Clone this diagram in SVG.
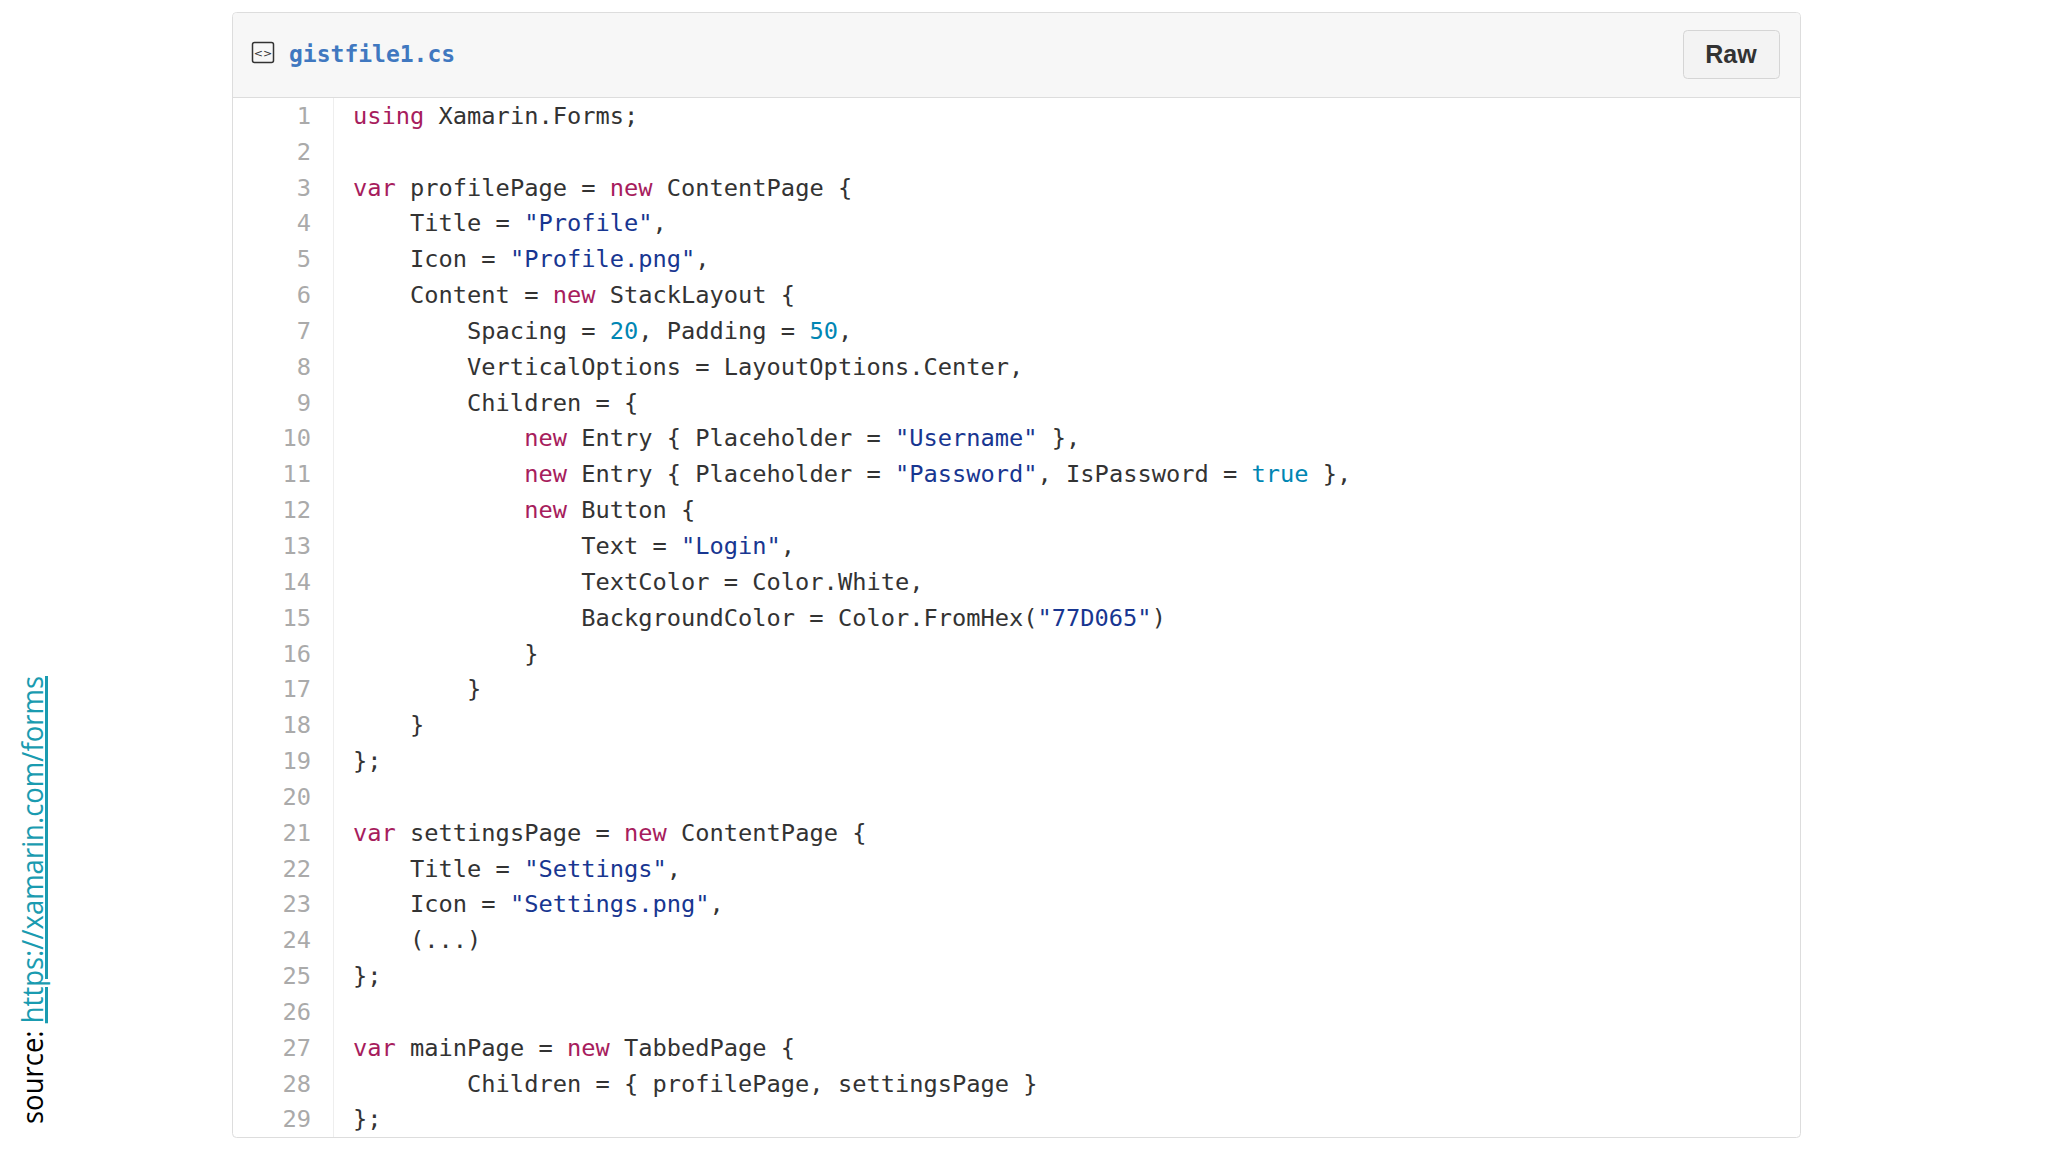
<svg xmlns="http://www.w3.org/2000/svg" width="2048" height="1152" viewBox="0 0 2048 1152">
<style>
.c{font-family:"DejaVu Sans Mono","Liberation Mono",monospace;font-size:23.7px;fill:#333;white-space:pre}
.n{font-family:"DejaVu Sans Mono","Liberation Mono",monospace;font-size:23.7px;fill:#aaa;text-anchor:end}
.k{fill:#a71d5d}.s{fill:#183691}.d{fill:#0086b3}
</style>
<rect width="2048" height="1152" fill="#fff"/>
<g id="gist">
<rect x="232.5" y="12.5" width="1568" height="1125" rx="4" fill="#fff" stroke="#ddd"/>
<path d="M233 97 V17 a4 4 0 0 1 4 -4 H1796 a4 4 0 0 1 4 4 V97 Z" fill="#f7f7f7"/>
<line x1="233" y1="97.5" x2="1800" y2="97.5" stroke="#ddd"/>
<line x1="333.5" y1="98" x2="333.5" y2="1137" stroke="#eee"/>
</g>
<g id="header">
<rect x="252.5" y="42.5" width="21" height="20" rx="2" fill="none" stroke="#333" stroke-width="1.5"/>
<text x="263" y="57" font-family="DejaVu Sans" font-size="11" fill="#333" text-anchor="middle">&lt;&gt;</text>
<text x="289" y="62" font-family="DejaVu Sans Mono,monospace" font-weight="bold" font-size="23" fill="#4078c0">gistfile1.cs</text>
<rect x="1683.5" y="30.5" width="96" height="48" rx="4" fill="#f3f3f3" stroke="#d5d5d5"/>
<text x="1731" y="63" font-family="Liberation Sans,Arial,sans-serif" font-weight="bold" font-size="25" fill="#333" text-anchor="middle">Raw</text>
</g>
<g id="numbers">
<text class="n" x="311" y="124">1</text><text class="n" x="311" y="160">2</text><text class="n" x="311" y="196">3</text><text class="n" x="311" y="231">4</text><text class="n" x="311" y="267">5</text><text class="n" x="311" y="303">6</text><text class="n" x="311" y="339">7</text><text class="n" x="311" y="375">8</text><text class="n" x="311" y="411">9</text><text class="n" x="311" y="446">10</text><text class="n" x="311" y="482">11</text><text class="n" x="311" y="518">12</text><text class="n" x="311" y="554">13</text><text class="n" x="311" y="590">14</text><text class="n" x="311" y="626">15</text><text class="n" x="311" y="662">16</text><text class="n" x="311" y="697">17</text><text class="n" x="311" y="733">18</text><text class="n" x="311" y="769">19</text><text class="n" x="311" y="805">20</text><text class="n" x="311" y="841">21</text><text class="n" x="311" y="877">22</text><text class="n" x="311" y="912">23</text><text class="n" x="311" y="948">24</text><text class="n" x="311" y="984">25</text><text class="n" x="311" y="1020">26</text><text class="n" x="311" y="1056">27</text><text class="n" x="311" y="1092">28</text><text class="n" x="311" y="1127">29</text>
</g>
<g id="code" xml:space="preserve">
<text class="c" x="353" y="124"><tspan class="k">using</tspan> Xamarin.Forms;</text>
<text class="c" x="353" y="196"><tspan class="k">var</tspan> profilePage = <tspan class="k">new</tspan> ContentPage {</text>
<text class="c" x="353" y="231">    Title = <tspan class="s">"Profile"</tspan>,</text>
<text class="c" x="353" y="267">    Icon = <tspan class="s">"Profile.png"</tspan>,</text>
<text class="c" x="353" y="303">    Content = <tspan class="k">new</tspan> StackLayout {</text>
<text class="c" x="353" y="339">        Spacing = <tspan class="d">20</tspan>, Padding = <tspan class="d">50</tspan>,</text>
<text class="c" x="353" y="375">        VerticalOptions = LayoutOptions.Center,</text>
<text class="c" x="353" y="411">        Children = {</text>
<text class="c" x="353" y="446">            <tspan class="k">new</tspan> Entry { Placeholder = <tspan class="s">"Username"</tspan> },</text>
<text class="c" x="353" y="482">            <tspan class="k">new</tspan> Entry { Placeholder = <tspan class="s">"Password"</tspan>, IsPassword = <tspan class="d">true</tspan> },</text>
<text class="c" x="353" y="518">            <tspan class="k">new</tspan> Button {</text>
<text class="c" x="353" y="554">                Text = <tspan class="s">"Login"</tspan>,</text>
<text class="c" x="353" y="590">                TextColor = Color.White,</text>
<text class="c" x="353" y="626">                BackgroundColor = Color.FromHex(<tspan class="s">"77D065"</tspan>)</text>
<text class="c" x="353" y="662">            }</text>
<text class="c" x="353" y="697">        }</text>
<text class="c" x="353" y="733">    }</text>
<text class="c" x="353" y="769">};</text>
<text class="c" x="353" y="841"><tspan class="k">var</tspan> settingsPage = <tspan class="k">new</tspan> ContentPage {</text>
<text class="c" x="353" y="877">    Title = <tspan class="s">"Settings"</tspan>,</text>
<text class="c" x="353" y="912">    Icon = <tspan class="s">"Settings.png"</tspan>,</text>
<text class="c" x="353" y="948">    (...)</text>
<text class="c" x="353" y="984">};</text>
<text class="c" x="353" y="1056"><tspan class="k">var</tspan> mainPage = <tspan class="k">new</tspan> TabbedPage {</text>
<text class="c" x="353" y="1092">        Children = { profilePage, settingsPage }</text>
<text class="c" x="353" y="1127">};</text>
</g>
<g id="source">
<text transform="translate(43,1124) rotate(-90)" font-family="Open Sans,Noto Sans,sans-serif" font-size="30" fill="#000" textLength="448" lengthAdjust="spacingAndGlyphs">source: <tspan fill="#1a9bb0" text-decoration="underline">https://xamarin.com/forms</tspan></text>
</g>
</svg>
